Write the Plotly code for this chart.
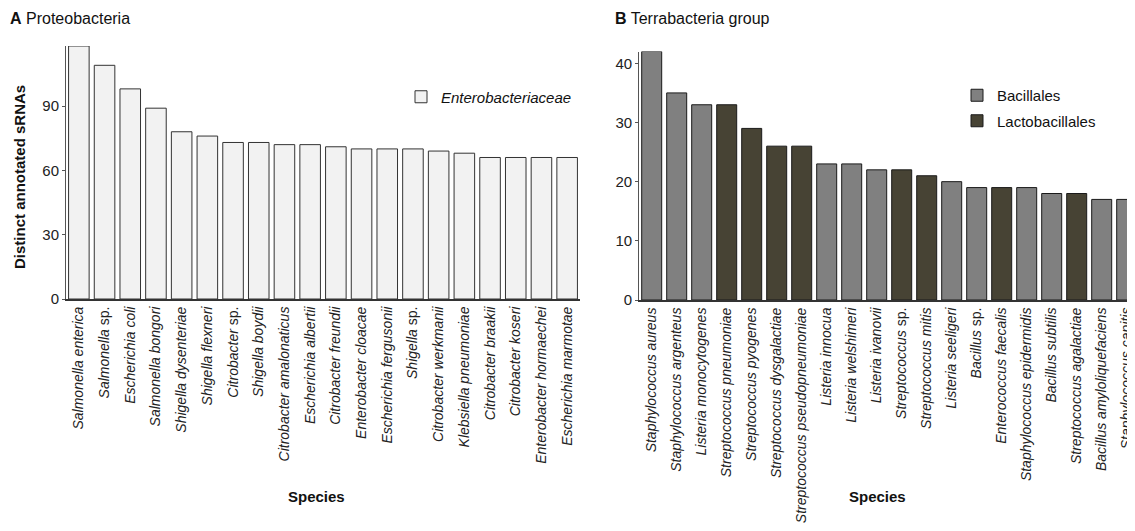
import plotly.graph_objects as go

W, H = 1135, 531
OFF = 8  # default page body margin in the written html

# ---------------- data ----------------
proteo_genus = ["Salmonella", "Salmonella", "Escherichia", "Salmonella", "Shigella",
                "Shigella", "Citrobacter", "Shigella", "Citrobacter", "Escherichia",
                "Citrobacter", "Enterobacter", "Escherichia", "Shigella", "Citrobacter",
                "Klebsiella", "Citrobacter", "Citrobacter", "Enterobacter", "Escherichia"]
proteo_species = ["enterica", "sp.", "coli", "bongori", "dysenteriae",
                  "flexneri", "sp.", "boydii", "amalonaticus", "albertii",
                  "freundii", "cloacae", "fergusonii", "sp.", "werkmanii",
                  "pneumoniae", "braakii", "koseri", "hormaechei", "marmotae"]
proteo_values = [118, 109, 98, 89, 78, 76, 73, 73, 72, 72,
                 71, 70, 70, 70, 69, 68, 66, 66, 66, 66]

terra_genus = ["Staphylococcus", "Staphylococcus", "Listeria", "Streptococcus", "Streptococcus",
               "Streptococcus", "Streptococcus", "Listeria", "Listeria", "Listeria",
               "Streptococcus", "Streptococcus", "Listeria", "Bacillus", "Enterococcus",
               "Staphylococcus", "Bacillus", "Streptococcus", "Bacillus", "Staphylococcus"]
terra_species = ["aureus", "argenteus", "monocytogenes", "pneumoniae", "pyogenes",
                 "dysgalactiae", "pseudopneumoniae", "innocua", "welshimeri", "ivanovii",
                 "sp.", "mitis", "seeligeri", "sp.", "faecalis",
                 "epidermidis", "subtilis", "agalactiae", "amyloliquefaciens", "capitis"]
terra_values = [42, 35, 33, 33, 29, 26, 26, 23, 23, 22,
                22, 21, 20, 19, 19, 19, 18, 18, 17, 17]
terra_order = ["Bacillales", "Bacillales", "Bacillales", "Lactobacillales", "Lactobacillales",
               "Lactobacillales", "Lactobacillales", "Bacillales", "Bacillales", "Bacillales",
               "Lactobacillales", "Lactobacillales", "Bacillales", "Bacillales", "Lactobacillales",
               "Bacillales", "Bacillales", "Lactobacillales", "Bacillales", "Bacillales"]

proteo_ticks_y = [0, 30, 60, 90]
terra_ticks_y = [0, 10, 20, 30, 40]
# --------------------------------------

FONT = "Arial, Liberation Sans, sans-serif"


def label(g, s):
    if s == "sp.":
        return f"<i>{g}</i> sp."
    return f"<i>{g} {s}</i>"


def px(x):
    return (x - OFF) / W


def py(y):
    return 1 - (y - OFF) / H


proteo_labels = [label(g, s) for g, s in zip(proteo_genus, proteo_species)]
terra_labels = [label(g, s) for g, s in zip(terra_genus, terra_species)]

fig = go.Figure()

fig.add_trace(go.Bar(
    x=list(range(len(proteo_values))), y=proteo_values,
    name="<i>Enterobacteriaceae</i>",
    marker=dict(color="#f2f2f2", line=dict(color="#333333", width=1)),
    xaxis="x", yaxis="y", legend="legend", showlegend=True,
))

colors = {"Bacillales": "#808080", "Lactobacillales": "#474334"}
for grp in ["Bacillales", "Lactobacillales"]:
    xs = [i for i, o in enumerate(terra_order) if o == grp]
    ys = [terra_values[i] for i in xs]
    fig.add_trace(go.Bar(
        x=xs, y=ys, name=grp, legendgroup=grp,
        marker=dict(color=colors[grp], line=dict(color="#1a1a1a", width=1)),
        xaxis="x2", yaxis="y2", legend="legend2",
    ))

xtickfont = dict(family=FONT, size=14, color="#222222")
ytickfont = dict(family=FONT, size=15, color="#222222")

fig.update_layout(
    width=W, height=H,
    margin=dict(l=0, r=0, t=0, b=0),
    paper_bgcolor="white", plot_bgcolor="white",
    font=dict(family=FONT, color="#111111"),
    barmode="overlay", bargap=0.2,
    xaxis=dict(domain=[px(66), px(580)], range=[-0.5, 19.5],
               tickmode="array", tickvals=list(range(20)), ticktext=proteo_labels,
               tickangle=-90, tickfont=xtickfont, ticks="", showgrid=False, zeroline=False,
               showline=True, linecolor="#333333", linewidth=2, automargin=False,
               anchor="y"),
    yaxis=dict(domain=[py(299), py(46)], range=[0, 118],
               tickmode="array", tickvals=proteo_ticks_y, tickfont=ytickfont,
               ticks="outside", ticklen=3, tickcolor="#555555",
               showgrid=False, zeroline=False, showline=True, linecolor="#555555",
               linewidth=1, automargin=False, anchor="x"),
    xaxis2=dict(domain=[px(639.2), px(1135)], range=[-0.5, 19.332],
                tickmode="array", tickvals=list(range(20)), ticktext=terra_labels,
                tickangle=-90, tickfont=xtickfont, ticks="", showgrid=False, zeroline=False,
                showline=True, linecolor="#333333", linewidth=2, automargin=False,
                anchor="y2"),
    yaxis2=dict(domain=[py(300), py(51.5)], range=[0, 42],
                tickmode="array", tickvals=terra_ticks_y, tickfont=ytickfont,
                ticks="outside", ticklen=3, tickcolor="#555555",
                showgrid=False, zeroline=False, showline=True, linecolor="#555555",
                linewidth=1, automargin=False, anchor="x2"),
    legend=dict(x=px(401), y=py(97), xanchor="left", yanchor="middle",
                font=dict(family=FONT, size=15, color="#111111"),
                bgcolor="rgba(0,0,0,0)", borderwidth=0),
    legend2=dict(x=px(957), y=py(108), xanchor="left", yanchor="middle",
                 font=dict(family=FONT, size=15, color="#111111"),
                 bgcolor="rgba(0,0,0,0)", borderwidth=0, tracegroupgap=3,
                 traceorder="grouped"),
    showlegend=True,
)

annotations = [
    dict(text="<b>A</b> Proteobacteria", x=px(8), y=py(19), xanchor="left", yanchor="middle",
         font=dict(family=FONT, size=16, color="#111111")),
    dict(text="<b>B</b> Terrabacteria group", x=px(613), y=py(19), xanchor="left", yanchor="middle",
         font=dict(family=FONT, size=16, color="#111111")),
    dict(text="<b>Distinct annotated sRNAs</b>", x=px(19), y=py(177), xanchor="center",
         yanchor="middle", textangle=-90, font=dict(family=FONT, size=15, color="#111111")),
    dict(text="<b>Species</b>", x=px(316), y=py(496), xanchor="center", yanchor="middle",
         font=dict(family=FONT, size=15, color="#111111")),
    dict(text="<b>Species</b>", x=px(877), y=py(496), xanchor="center", yanchor="middle",
         font=dict(family=FONT, size=15, color="#111111")),
]
for a in annotations:
    a.update(xref="paper", yref="paper", showarrow=False)
fig.update_layout(annotations=annotations)

fig.write_html("out.html")
